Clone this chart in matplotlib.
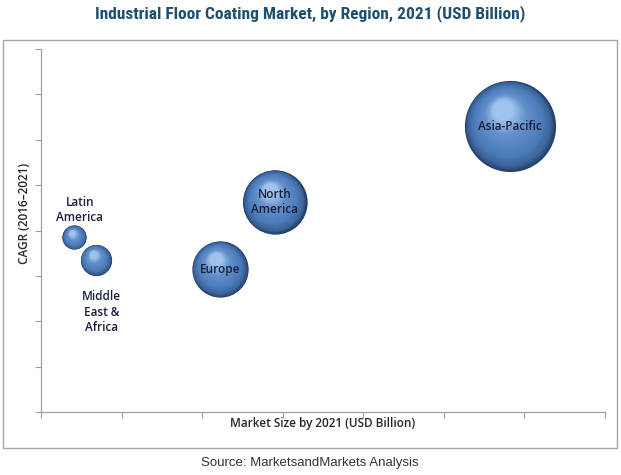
import numpy as np
import matplotlib
matplotlib.use("Agg")
import matplotlib.pyplot as plt
from matplotlib import font_manager
from matplotlib.colors import LinearSegmentedColormap
from matplotlib.transforms import ScaledTranslation
from matplotlib.patches import Rectangle

# data (axis units: x 0..7, y 0..8, no labels shown)
regions = ["Latin\nAmerica", "Middle\nEast &\nAfrica", "Europe", "North\nAmerica", "Asia-Pacific"]
market_size = [0.41, 0.68, 2.22, 2.90, 5.82]
cagr = [3.85, 3.35, 3.15, 4.63, 6.30]


def narrow_font():
    # look for some condensed face for the title
    fonts = font_manager.fontManager.ttflist
    for want in ["Liberation Sans Narrow", "Roboto Condensed", "Open Sans Condensed"]:
        for f in fonts:
            if f.name == want:
                return dict(family=want, fontstretch="normal", fontsize=12.5)
    for f in fonts:
        if f.name == "DejaVu Sans" and f.stretch in ("condensed", 300, "semi-condensed"):
            return dict(family="DejaVu Sans", fontstretch="condensed", fontsize=10.5)
    return dict(family="Roboto", fontstretch="normal", fontsize=10)


fig = plt.figure(figsize=(6.21, 4.75), dpi=100)
ax = fig.add_axes([0.066, 0.1326, 0.908, 0.7642])

# outer frame
fig.patches.append(Rectangle((3 / 621, 27 / 475), 614 / 621, 408 / 475,
                             transform=fig.transFigure, fill=False,
                             edgecolor="#a6a6a6", linewidth=1.0))

sphere = LinearSegmentedColormap.from_list(
    "sphere", [(0.0, "#253f66"), (0.1, "#3a6398"), (0.3, "#4b7bb8"),
               (0.7, "#6391cc"), (1.0, "#9fc3ec")])


def draw_bubble(x, y, s):
    r_pt = np.sqrt(s) / 2
    n = 40
    for i in range(n):
        t = i / (n - 1)
        f = 1 - 0.78 * t
        dx = -0.15 * t * r_pt
        dy = 0.36 * t * r_pt
        trans = ax.transData + ScaledTranslation(dx / 72, dy / 72, fig.dpi_scale_trans)
        ax.scatter([x], [y], s=(2 * r_pt * f) ** 2, color=sphere(t),
                   transform=trans, linewidths=0, zorder=2 + t)


for mx, cg in zip(market_size, cagr):
    draw_bubble(mx, cg, 740 * mx)

lab_kw = dict(fontsize=8.5, fontweight="semibold", color="#1b1f3b",
              family="Open Sans", ha="center", va="center", zorder=5,
              linespacing=1.25)
ax.text(0.48, 4.45, regions[0], **lab_kw)
ax.text(0.75, 2.2, regions[1], **lab_kw)
for name, mx, cg in zip(regions[2:], market_size[2:], cagr[2:]):
    ax.text(mx, cg, name, **lab_kw)

ax.set_xlim(0, 7)
ax.set_ylim(0, 8)
ax.set_xticks(np.arange(0, 8))
ax.set_yticks(np.arange(0, 9))
ax.set_xticklabels([])
ax.set_yticklabels([])
ax.tick_params(direction="out", length=4, color="#a0a0a0", width=0.8)
for sp in ["top", "right"]:
    ax.spines[sp].set_visible(False)
for sp in ["left", "bottom"]:
    ax.spines[sp].set_color("#a0a0a0")
    ax.spines[sp].set_linewidth(0.9)

fig.text(323 / 621, 1 - 424 / 475, "Market Size by 2021 (USD Billion)",
         fontsize=8.5, fontweight="semibold", color="#262626", family="Open Sans",
         ha="center", va="center")
fig.text(25 / 621, 1 - 213 / 475, "CAGR (2016\u20132021)", rotation=90,
         fontsize=8.5, fontweight="semibold", color="#262626", family="Open Sans",
         ha="center", va="center")
fig.text(310 / 621, 1 - 14 / 475, "Industrial Floor Coating Market, by Region, 2021 (USD Billion)",
         fontweight="bold", color="#1f4f6f", ha="center", va="center",
         **narrow_font())
fig.text(310 / 621, 1 - 463 / 475, "Source: MarketsandMarkets Analysis",
         fontsize=9.5, color="#333333", family="Liberation Sans",
         ha="center", va="center")

fig.savefig("out.png", dpi=100)
